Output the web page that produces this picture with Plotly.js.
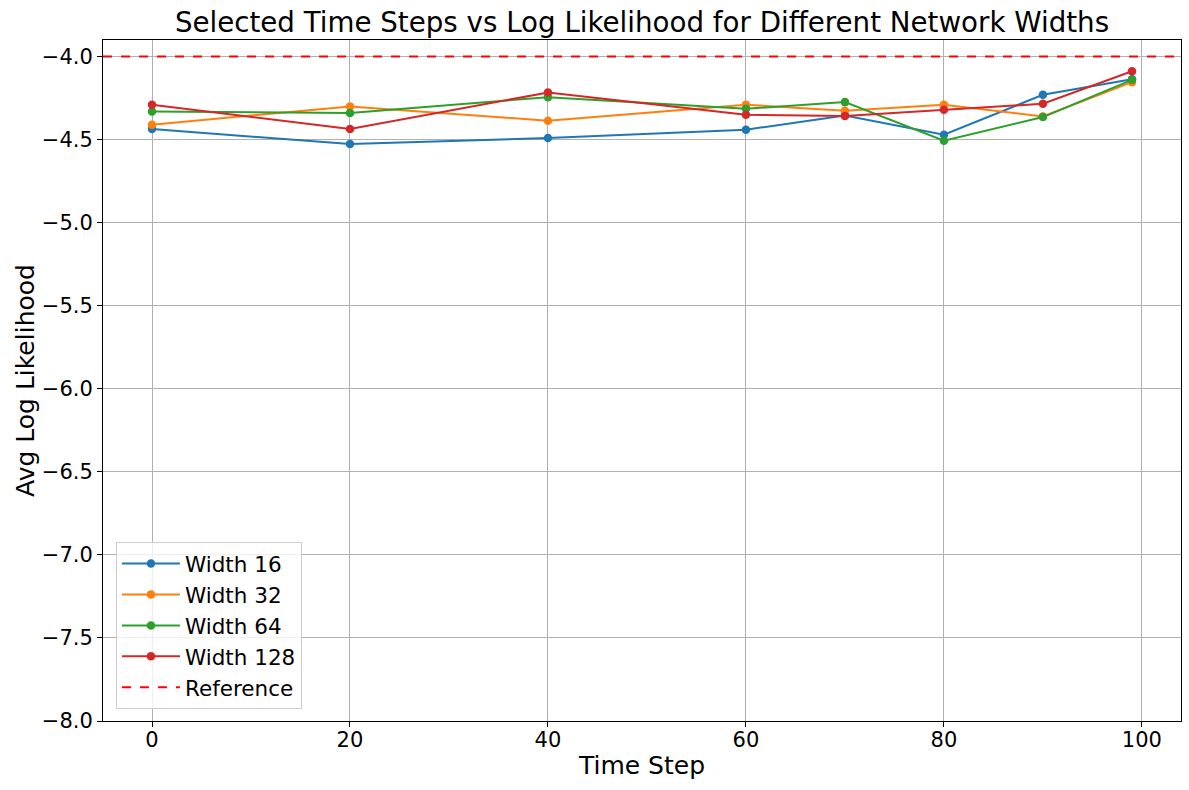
<!DOCTYPE html>
<html>
<head>
<meta charset="utf-8">
<script src="https://cdn.plot.ly/plotly-3.0.1.min.js"></script>
<style>html,body{margin:0;padding:0;background:#fff;}#chart{width:1189px;height:790px;}</style>
</head>
<body>
<div id="chart"></div>
<script>
const timeSteps = [0, 20, 40, 60, 70, 80, 90, 99];
const seriesNames = ["Width 16", "Width 32", "Width 64", "Width 128"];
const width16 = [-4.436, -4.526, -4.49, -4.44, -4.355, -4.47, -4.23, -4.136];
const width32 = [-4.41, -4.30, -4.386, -4.29, -4.326, -4.29, -4.36, -4.154];
const width64 = [-4.33, -4.34, -4.244, -4.314, -4.274, -4.506, -4.364, -4.14];
const width128 = [-4.29, -4.436, -4.216, -4.35, -4.358, -4.32, -4.284, -4.088];
const referenceValue = -4.0;
const colors = ["#1f77b4", "#ff7f0e", "#2ca02c", "#d62728"];
const xTicks = [0, 20, 40, 60, 80, 100];
const yTicks = [-8.0, -7.5, -7.0, -6.5, -6.0, -5.5, -5.0, -4.5, -4.0];

const allSeries = [width16, width32, width64, width128];
const traces = allSeries.map((ys, i) => ({
  x: timeSteps, y: ys, type: "scatter", mode: "lines+markers",
  name: seriesNames[i],
  line: {color: colors[i], width: 2},
  marker: {color: colors[i], size: 8.5}
}));

const font = "DejaVu Sans, sans-serif";
const layout = {
  width: 1189, height: 790,
  paper_bgcolor: "#fff", plot_bgcolor: "#fff",
  margin: {l: 103, r: 8, t: 40, b: 69, pad: 0},
  font: {family: font, color: "#000"},
  title: {text: "Selected Time Steps vs Log Likelihood for Different Network Widths",
    font: {family: font, size: 27.7, color: "#000"},
    x: 0.5, xref: "paper", y: 1 - 22/790, yref: "container", yanchor: "middle"},
  xaxis: {
    range: [-4.95, 103.95], tickvals: xTicks, ticktext: xTicks.map(String),
    showgrid: true, gridcolor: "#b0b0b0", gridwidth: 1,
    zeroline: false, showline: true, linecolor: "#000", linewidth: 1, mirror: true,
    ticks: "outside", ticklen: 5, tickcolor: "#000", tickwidth: 1,
    ticklabelstandoff: -5,
    tickfont: {family: font, size: 21, color: "#000"},
    title: {text: "Time Step", font: {family: font, size: 25, color: "#000"}, standoff: 5}
  },
  yaxis: {
    range: [-8.0, -3.9], tickvals: yTicks, ticktext: yTicks.map(v => (v < 0 ? "\u2212" : "") + Math.abs(v).toFixed(1)),
    showgrid: true, gridcolor: "#b0b0b0", gridwidth: 1,
    zeroline: false, showline: true, linecolor: "#000", linewidth: 1, mirror: true,
    ticks: "outside", ticklen: 5, tickcolor: "#000", tickwidth: 1,
    tickfont: {family: font, size: 21, color: "#000"},
    title: {text: "Avg Log Likelihood", font: {family: font, size: 25, color: "#000"}, standoff: 0}
  },
  shapes: [{
    type: "line", xref: "paper", x0: 0, x1: 1, yref: "y", y0: referenceValue, y1: referenceValue,
    line: {color: "#ff0000", width: 2, dash: "dash"},
    showlegend: true, name: "Reference"
  }],
  legend: {
    x: 0.012, y: 0.0176, xanchor: "left", yanchor: "bottom",
    bgcolor: "rgba(255,255,255,0.8)", bordercolor: "#cccccc", borderwidth: 1,
    font: {family: font, size: 21.5, color: "#000"},
    tracegroupgap: 0, itemwidth: 58
  },
  showlegend: true
};

Plotly.newPlot("chart", traces, layout, {displayModeBar: false, staticPlot: true});
</script>
</body>
</html>
